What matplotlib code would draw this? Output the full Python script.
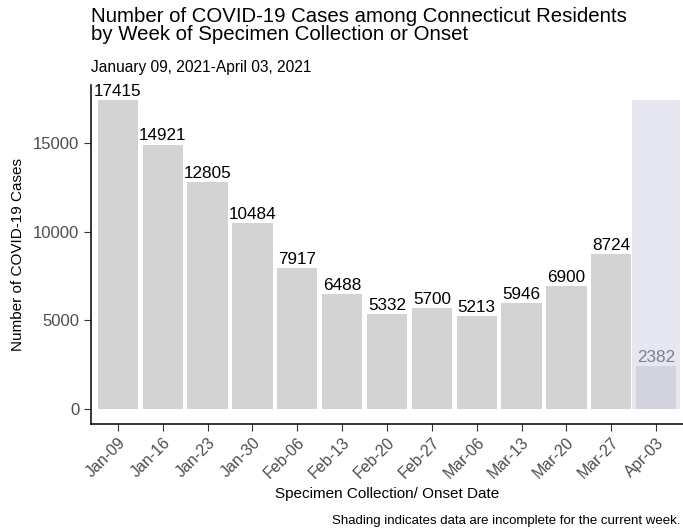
import matplotlib
matplotlib.use("Agg")
import matplotlib.pyplot as plt
import numpy as np

plt.rcParams['font.family'] = ['Liberation Sans', 'DejaVu Sans']

weeks = ["Jan-09", "Jan-16", "Jan-23", "Jan-30", "Feb-06", "Feb-13", "Feb-20",
         "Feb-27", "Mar-06", "Mar-13", "Mar-20", "Mar-27", "Apr-03"]
cases = [17415, 14921, 12805, 10484, 7917, 6488, 5332, 5700, 5213, 5946, 6900, 8724, 2382]
incomplete = [False] * 12 + [True]

W, H = 683, 531
fig = plt.figure(figsize=(W / 100, H / 100), dpi=100)
ax = fig.add_axes([91 / W, 107 / H, (W - 91) / W, (424 - 85) / H])

x = np.arange(len(weeks))
ymax = max(cases)
# shading for incomplete week
for i, flag in enumerate(incomplete):
    if flag:
        ax.bar(x[i], ymax, width=1.07, color="#E7E7F2", zorder=1)
cols = ["#D3D3DE" if f else "#D3D3D3" for f in incomplete]
ax.bar(x, cases, width=0.9, color=cols, zorder=2)
for i, (v, f) in enumerate(zip(cases, incomplete)):
    ax.text(x[i], v + 60, str(v), ha="center", va="bottom", fontsize=12.3,
            color="#7F7F8C" if f else "black", zorder=3)

ax.set_xlim(-0.6, len(weeks) - 0.4)
ax.set_ylim(-ymax * 0.05, ymax * 1.05)
ax.set_yticks([0, 5000, 10000, 15000])
ax.set_xticks(x)
ax.set_xticklabels(weeks, rotation=45, ha="right", rotation_mode="anchor")
ax.tick_params(axis="both", colors="#333333", labelcolor="#4D4D4D", labelsize=12, length=5)
ax.tick_params(axis="x", labelsize=11.5, pad=3)
ax.spines["top"].set_visible(False)
ax.spines["right"].set_visible(False)
ax.spines["left"].set_linewidth(1.1)
ax.spines["bottom"].set_linewidth(1.1)
ax.set_ylabel("Number of COVID-19 Cases", fontsize=11, labelpad=6)
ax.set_xlabel("Specimen Collection/ Onset Date", fontsize=11, labelpad=4)

fig.text(91 / W, 1 - 7 / H, "Number of COVID-19 Cases among Connecticut Residents\nby Week of Specimen Collection or Onset",
         fontsize=14.7, va="top", ha="left", linespacing=0.92)
fig.text(91 / W, 1 - 60 / H, "January 09, 2021-April 03, 2021", fontsize=11.2, ha="left", va="top")
fig.text(680 / W, 1 - 527 / H, "Shading indicates data are incomplete for the current week.",
         fontsize=9.5, ha="right", va="bottom")

fig.savefig("out.png", dpi=100)
